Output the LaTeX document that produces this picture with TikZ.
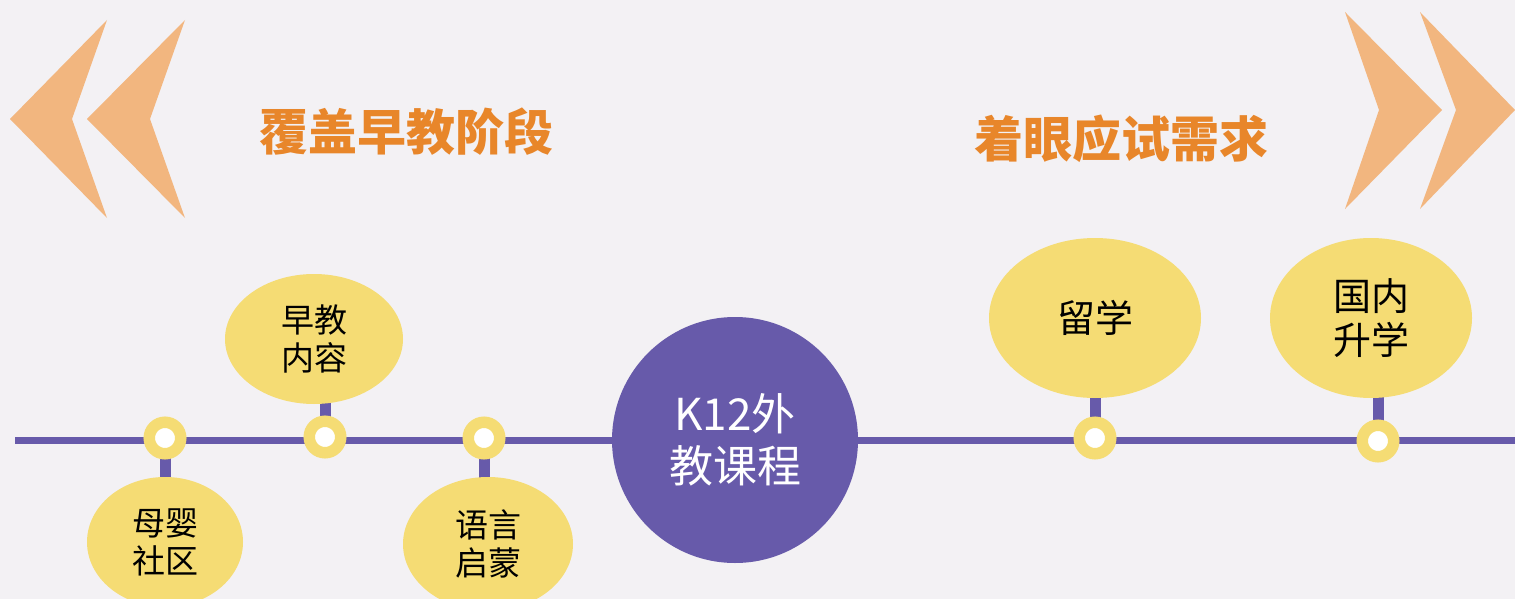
\documentclass[tikz,border=0pt]{standalone}
\usepackage{fontspec}
\newfontfamily\cjk{Noto Sans CJK SC}
\usetikzlibrary{shapes.geometric,backgrounds}
\definecolor{bgc}{RGB}{243,241,244}
\definecolor{purp}{RGB}{103,90,170}
\definecolor{yel}{RGB}{245,220,116}
\definecolor{orng}{RGB}{232,134,42}
\definecolor{chev}{RGB}{242,182,127}
\tikzset{
  bubble/.style={ellipse,fill=yel,inner sep=0pt,align=center,text=black},
  smalltxt/.style={font=\cjk\fontsize{33}{38}\selectfont},
  bigtxt/.style={font=\cjk\fontsize{38}{44}\selectfont},
  ring/.style={circle,draw=yel,line width=11.5pt,fill=white,minimum size=31.5pt,inner sep=0pt},
  stem/.style={draw=purp,line width=11pt},
  timeline/.style={draw=purp,line width=7pt},
  title/.style={font=\cjk\bfseries\fontsize{49}{55}\selectfont,text=orng,inner sep=0pt},
  chevshape/.style={fill=chev}
}
\begin{document}
\begin{tikzpicture}[x=1pt,y=-1pt]
\useasboundingbox (0,0) rectangle (1515,599);
% chevrons
\fill[chevshape] (107,20) -- (10,119) -- (107,218) -- (72,119) -- cycle;
\fill[chevshape] (185,20) -- (87,119) -- (185,218) -- (150,119) -- cycle;
\fill[chevshape] (1345,12) -- (1442,110) -- (1345,209) -- (1379,110) -- cycle;
\fill[chevshape] (1420,12) -- (1515,110) -- (1420,209) -- (1456,110) -- cycle;
% titles
\node[title] (t1) at (406,132) {覆盖早教阶段};
\node[title] (t2) at (1121,139) {着眼应试需求};
% timeline ends
\coordinate (L) at (15,440);
\coordinate (R) at (1515,440);
% bubbles
\node[bubble,smalltxt,minimum width=156pt,minimum height=130pt] (b1) at (165,542) {母婴\\社区};
\node[bubble,smalltxt,minimum width=178pt,minimum height=130pt] (b2) at (314,339) {早教\\内容};
\node[bubble,smalltxt,minimum width=170pt,minimum height=134pt] (b3) at (488,544) {语言\\启蒙};
\node[bubble,bigtxt,minimum width=212pt,minimum height=160pt] (b4) at (1095,318) {留学};
\node[bubble,bigtxt,minimum width=202pt,minimum height=160pt] (b5) at (1371,318) {国内\\升学};
% central circle
\node[circle,fill=purp,minimum size=246pt,inner sep=0pt,align=center,text=white,font=\cjk\fontsize{44}{52}\selectfont] (k) at (735,440) {K12外\\教课程};
% rings
\node[ring] (r1) at (165,438) {};
\node[ring] (r2) at (325,437) {};
\node[ring] (r3) at (484,438) {};
\node[ring] (r4) at (1095,438) {};
\node[ring] (r5) at (1378,441) {};
\begin{scope}[on background layer]
\fill[bgc] (0,0) rectangle (1515,599);
\draw[timeline] (L) -- (R);
\draw[stem] (r1.center) -- (r1.center |- b1.center);
\draw[stem] (r2.center) -- (r2.center |- b2.center);
\draw[stem] (r3.center) -- (r3.center |- b3.center);
\draw[stem] (r4.center) -- (r4.center |- b4.center);
\draw[stem] (r5.center) -- (r5.center |- b5.center);
\end{scope}
\end{tikzpicture}
\end{document}
